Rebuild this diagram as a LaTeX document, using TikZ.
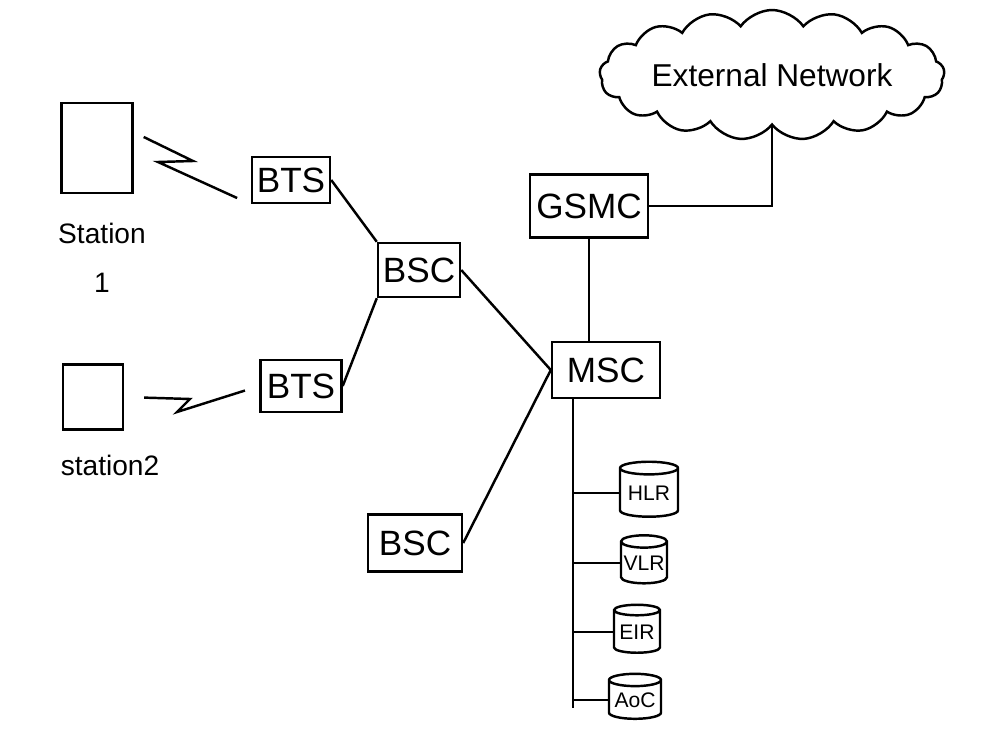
\documentclass[tikz,border=0pt]{standalone}
\usepackage{fontspec}
\setmainfont{Liberation Sans}
\usetikzlibrary{shapes.geometric,shapes.symbols}

\tikzset{
	box/.style={draw, line width=1.4pt, inner sep=0pt, font=\fontsize{20}{22}\selectfont},
	station/.style={draw, line width=1.4pt},
	db/.style={draw, cylinder, shape border rotate=90, aspect=0.3, line width=1.4pt, inner sep=0pt, font=\fontsize{12}{14}\selectfont},
	link/.style={line width=1.4pt},
	label/.style={font=\fontsize{16}{28}\selectfont, align=center}
}

\begin{document}
\begin{tikzpicture}[x=0.02cm, y=-0.02cm]
	\useasboundingbox (0,0) rectangle (1000,750);

	\node [station, minimum width=1.42cm, minimum height=1.8cm] at (97,148) (st1) {};
	\node [label] at (102,258) (st1txt) {Station\\1};
	\node [station, minimum width=1.2cm, minimum height=1.3cm] at (93,397) (st2) {};
	\node [label] at (110,465) (st2txt) {station2};

	\node [box, minimum width=1.56cm, minimum height=0.92cm] at (291,180) (bts1) {BTS};
	\node [box, minimum width=1.62cm, minimum height=1.04cm] at (301,386) (bts2) {BTS};
	\node [box, minimum width=1.64cm, minimum height=1.08cm] at (419,270) (bsc1) {BSC};
	\node [box, minimum width=1.88cm, minimum height=1.14cm] at (415,543) (bsc2) {BSC};
	\node [box, minimum width=2.16cm, minimum height=1.12cm] at (606,370) (msc) {MSC};
	\node [box, minimum width=2.36cm, minimum height=1.26cm] at (589,206) (gsmc) {GSMC};

	\node [draw, cloud, cloud puffs=17, cloud puff arc=110, cloud ignores aspect,
		inner xsep=-10pt, inner ysep=0pt, minimum width=6.9cm, minimum height=2.6cm,
		line width=1.4pt, font=\fontsize{18}{20}\selectfont] at (772,75) (ext) {External Network};

	\node [db, minimum width=1.16cm, minimum height=1.1cm] at (649,493) (hlr) {HLR};
	\node [db, minimum width=0.92cm, minimum height=0.96cm] at (644,563) (vlr) {VLR};
	\node [db, minimum width=0.92cm, minimum height=0.96cm] at (637,632) (eir) {EIR};
	\node [db, minimum width=1.04cm, minimum height=0.9cm] at (635,700) (auc) {AoC};

	% radio links
	\draw [link, shorten >=0.3cm] ([shift={(10,-11)}]st1.east) -- (193,161) -- (158,162) -- (bts1.south west);
	\draw [link, shorten <=0.4cm, shorten >=0.3cm] (st2.east) -- (190,399) -- (177,412) -- (bts2.west);

	\draw [link] (bts1.east) -- (bsc1.north west);
	\draw [link] (bts2.east) -- (bsc1.south west);
	\draw [link] (bsc1.east) -- (msc.west);
	\draw [link] (bsc2.east) -- (msc.west);
	\draw [link] (gsmc.south) -- (gsmc.south |- msc.north);
	\draw [link] (gsmc.east) -| (ext.south);

	\coordinate (bus) at (573,398);
	\coordinate (busend) at (573,708);
	\draw [link] (bus) -- (busend);
	\foreach \n in {hlr,vlr,eir,auc}
		\draw [link] (\n.west) -- (\n.west -| bus);
\end{tikzpicture}
\end{document}
